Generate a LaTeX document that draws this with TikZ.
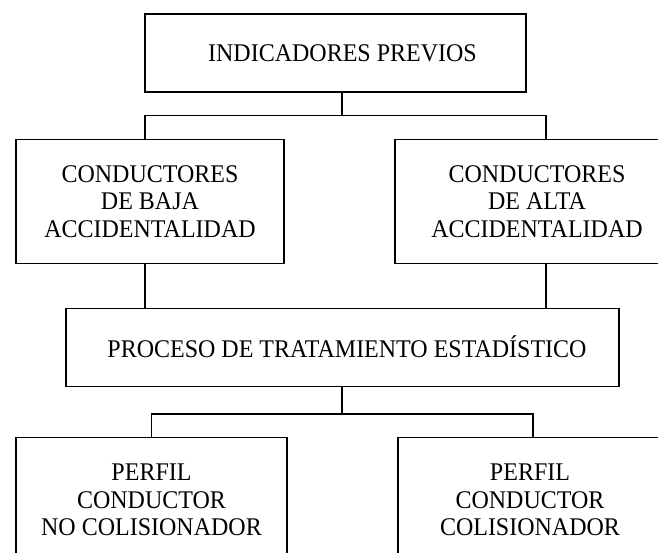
\documentclass[tikz,border=0pt]{standalone}
\usepackage{fontspec}
\usepackage{graphicx}
\setmainfont{Liberation Serif}
\usetikzlibrary{positioning}

% texto un poco mas alto
\newcommand{\alto}[1]{\raisebox{-3pt}[\height][\depth]{\scalebox{1}[1.06]{\begin{tabular}{@{}c@{}}#1\end{tabular}}}}

\begin{document}
\begin{tikzpicture}[x=1pt,y=-1pt,
  caja/.style={draw,line width=1.5pt,align=center,inner sep=0pt,
    font=\fontsize{24}{26}\selectfont},
  linea/.style={line width=1.5pt}]
\useasboundingbox (0,0) rectangle (658,553);
\clip (0,0) rectangle (658,553);

% las cajas
\node[caja,minimum width=381pt,minimum height=78pt] (indic) at (335.5,53) {\alto{\hspace*{14pt}INDICADORES PREVIOS}};
\node[caja,minimum width=268pt,minimum height=124pt] (baja) at (150,201.3) {\alto{CONDUCTORES\\DE BAJA\\ACCIDENTALIDAD}};
\node[caja,minimum width=284pt,minimum height=124pt] (alta) at (537,201.3) {\alto{CONDUCTORES\\DE ALTA\\ACCIDENTALIDAD}};
\node[caja,minimum width=553pt,minimum height=78pt] (proc) at (342.5,347.7) {\alto{\hspace*{9pt}PROCESO DE TRATAMIENTO ESTAD\'ISTICO}};
\node[caja,minimum width=271pt,minimum height=124pt] (nocol) at (151.5,499.7) {\alto{PERFIL\\CONDUCTOR\\NO COLISIONADOR}};
\node[caja,minimum width=264pt,minimum height=124pt] (col) at (530,499.7) {\alto{PERFIL\\CONDUCTOR\\COLISIONADOR}};

% las uniones
\coordinate (j1) at (342,115.7);
\coordinate (j2) at (342,414);

\draw[linea] (indic.south -| j1) -- (j1);
\draw[linea] ([xshift=-5pt]baja.north) |- (j1) -| ([xshift=9pt]alta.north);

\draw[linea] ([xshift=-5pt]baja.south) -- ([xshift=-5pt]baja.south |- proc.north);
\draw[linea] ([xshift=9pt]alta.south) -- ([xshift=9pt]alta.south |- proc.north);

\draw[linea] (proc.south -| j2) -- (j2);
\draw[linea] (nocol.north) |- (j2) -| ([xshift=3pt]col.north);
\end{tikzpicture}
\end{document}
